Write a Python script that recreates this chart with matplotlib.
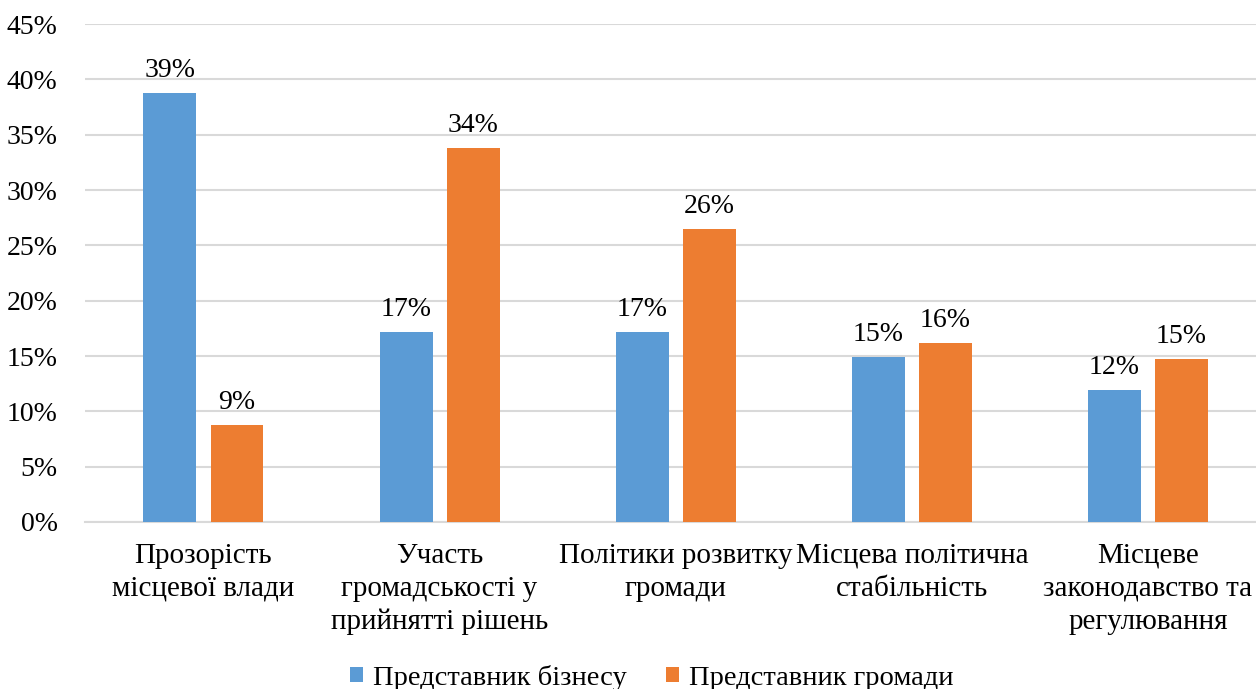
import matplotlib.pyplot as plt
import numpy as np
from matplotlib.ticker import FuncFormatter

categories = [
    "Прозорість\nмісцевої влади",
    "Участь\nгромадськості у\nприйнятті рішень",
    "Політики розвитку\nгромади",
    "Місцева політична\nстабільність",
    "Місцеве\nзаконодавство та\nрегулювання",
]
business = [38.8, 17.2, 17.2, 14.9, 11.9]
community = [8.8, 33.8, 26.5, 16.2, 14.7]
series_names = ["Представник бізнесу", "Представник громади"]

BLUE = "#5b9bd5"
ORANGE = "#ed7d31"

plt.rcParams["font.family"] = ["Liberation Serif", "DejaVu Serif"]

fig = plt.figure(figsize=(12.56, 6.89), dpi=100)
ax = fig.add_axes([0.068, 0.2424, 0.940, 0.7226])

x = np.arange(len(categories))
width = 0.224
offset = 0.142

bars1 = ax.bar(x - offset, business, width, color=BLUE, label=series_names[0], zorder=3)
bars2 = ax.bar(x + offset, community, width, color=ORANGE, label=series_names[1], zorder=3)

for bars, vals in ((bars1, business), (bars2, community)):
    for b, v in zip(bars, vals):
        ax.text(b.get_x() + b.get_width() / 2, v + 0.9, f"{round(v):.0f}%",
                ha="center", va="bottom", fontsize=20, color="#000000")

ax.set_xlim(-0.5, len(categories) - 0.5)
ax.set_ylim(0, 45)
ax.set_yticks(np.arange(0, 46, 5))
ax.yaxis.set_major_formatter(FuncFormatter(lambda v, p: f"{v:.0f}%"))
ax.set_xticks(x)
ax.set_xticklabels(categories, fontsize=21, linespacing=1.35)
ax.tick_params(axis="y", labelsize=20, length=0, pad=20)
ax.tick_params(axis="x", length=0, pad=15)

ax.grid(axis="y", color="#d9d9d9", linewidth=1.5, zorder=0)
for s in ["top", "right", "left"]:
    ax.spines[s].set_visible(False)
ax.spines["bottom"].set_color("#d9d9d9")
ax.spines["bottom"].set_linewidth(1.5)

fig.legend(loc="center", bbox_to_anchor=(0.519, 0.016), ncol=2, frameon=False,
           fontsize=20.5, handlelength=0.45, handleheight=0.45, handletextpad=0.35,
           columnspacing=1.4)

fig.savefig("out.png", dpi=100)
